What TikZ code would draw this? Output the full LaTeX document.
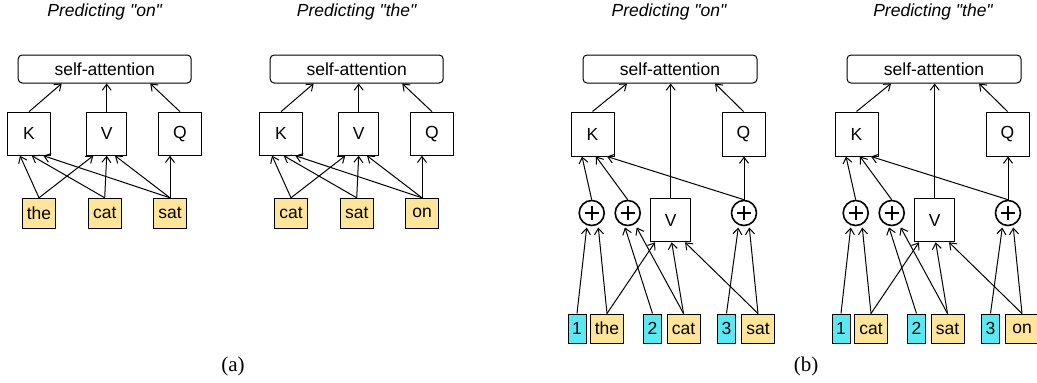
\documentclass[tikz,border=0pt]{standalone}
\usepackage{fontspec}
\setmainfont{Liberation Sans}
\newfontfamily\capfont{Liberation Serif}
\usetikzlibrary{calc,arrows.meta}
\definecolor{wordfill}{HTML}{FFE599}
\definecolor{numfill}{HTML}{5CE8F2}
\tikzset{
  diag/.style={font=\fontsize{17.5}{20}\selectfont},
  title/.style={font=\fontsize{17.5}{20}\selectfont\itshape},
  attn/.style={draw, line width=1pt, rounded corners=4pt, minimum width=173pt, minimum height=28pt, inner sep=0pt, diag},
  proj/.style={draw, line width=1pt, minimum width=43pt, minimum height=43pt, inner sep=0pt, diag},
  word/.style={draw, line width=1pt, fill=wordfill, minimum width=33pt, minimum height=29pt, inner sep=0pt, diag},
  num/.style={draw, line width=1pt, fill=numfill, minimum width=18pt, minimum height=29pt, inner sep=0pt, diag},
  plus/.style={circle, draw, line width=1.6pt, minimum size=25pt, inner sep=0pt,
    path picture={\draw[line width=2pt] ($(path picture bounding box.center)+(-7,0)$) -- +(14,0)
      ($(path picture bounding box.center)+(0,-7)$) -- +(0,14);}},
  link/.style={-{Straight Barb[length=6pt,width=9pt]}, line width=1pt}
}
% panel (a): offset, prefix, title, three words
\newcommand\panela[6]{
  \begin{scope}[xshift=#1pt]
    \node[title] (#2t) at (104.7,12) {#3};
    \node[attn] (#2sa) at (104.7,69) {self-attention};
    \node[proj] (#2K) at (29,133.7) {K};
    \node[proj, minimum width=40pt] (#2V) at (106.7,133.7) {V};
    \node[proj] (#2Q) at (180,133.7) {Q};
    \node[word, minimum height=30pt] (#2a) at (39,213.3) {#4};
    \node[word, minimum height=30pt] (#2b) at (104.7,213.3) {#5};
    \node[word, minimum height=30pt] (#2c) at (170,213.3) {#6};
    \draw[link] (#2a.north) -- ($(#2K.south)+(-9,0)$);
    \draw[link] (#2a.north) -- ($(#2V.south)+(-13.4,0)$);
    \draw[link] (#2b.north) -- ($(#2K.south)+(2.7,0)$);
    \draw[link] (#2b.north) -- (#2V.south);
    \draw[link] (#2c.north) -- ($(#2K.south)+(14.3,0)$);
    \draw[link] (#2c.north) -- ($(#2V.south)+(8.3,0)$);
    \draw[link] (#2c.north) -- (#2c.north |- #2Q.south);
    \draw[link] (#2K.north) -- ($(#2sa.south)+(-43,0)$);
    \draw[link] (#2V.north) -- (#2V.north |- #2sa.south);
    \draw[link] (#2Q.north) -- ($(#2sa.south)+(45.5,0)$);
  \end{scope}
}
% panel (b): offset, prefix, title, three words
\newcommand\panelb[6]{
  \begin{scope}[xshift=#1pt]
    \node[title] (#2t) at (669,12) {#3};
    \node[attn, minimum width=174pt] (#2sa) at (670,69) {self-attention};
    \node[proj, minimum height=44pt] (#2K) at (592.5,134) {K};
    \node[proj, minimum height=44pt] (#2Q) at (743.5,134) {Q};
    \node[plus] (#2p1) at (591.7,213) {};
    \node[plus] (#2p2) at (627.7,213) {};
    \node[plus] (#2p3) at (744,213) {};
    \node[proj, minimum width=40pt] (#2V) at (670.7,220.3) {V};
    \node[num] (#2n1) at (577,328.5) {1};
    \node[word] (#2a) at (607,328.5) {#4};
    \node[num] (#2n2) at (652.5,328.5) {2};
    \node[word] (#2b) at (683.5,328.5) {#5};
    \node[num] (#2n3) at (726.5,328.5) {3};
    \node[word] (#2c) at (758,328.5) {#6};
    \draw[link] (#2K.north) -- ($(#2sa.south)+(-43,0)$);
    \draw[link] (#2V.north) -- (#2V.north |- #2sa.south);
    \draw[link] (#2Q.north) -- ($(#2sa.south)+(45,0)$);
    \draw[link] (#2p1.north) -- ($(#2K.south)+(-10.5,0)$);
    \draw[link] (#2p2.north) -- ($(#2K.south)+(3.5,0)$);
    \draw[link] (#2p3.north) -- ($(#2K.south)+(14.5,0)$);
    \draw[link] (#2p3.north) -- (#2p3.north |- #2Q.south);
    \draw[link] (#2n1.north) -- ($(#2p1)+(-5,14.5)$);
    \draw[link] (#2a.north) -- ($(#2p1)+(6.6,14.5)$);
    \draw[link] (#2a.north) -- ($(#2V.south)+(-15.7,0)$);
    \draw[link] (#2n2.north) -- ($(#2p2)+(-2.7,14.5)$);
    \draw[link] (#2b.north) -- ($(#2p2)+(9,14.5)$);
    \draw[link] (#2b.north) -- ($(#2V.south)+(1,0)$);
    \draw[link] (#2n3.north) -- ($(#2p3)+(-5.7,14.5)$);
    \draw[link] (#2c.north) -- ($(#2p3)+(5.3,14.5)$);
    \draw[link] (#2c.north) -- ($(#2V.south)+(14.3,0)$);
  \end{scope}
}

\begin{document}
\begin{tikzpicture}[x=1pt, y=-1pt]
  \useasboundingbox (0,0) rectangle (1037,383);

  \panela{0}{la}{Predicting \textquotedbl on\textquotedbl}{the}{cat}{sat}
  \panela{252}{ra}{Predicting \textquotedbl the\textquotedbl}{cat}{sat}{on}
  \panelb{0}{lb}{Predicting \textquotedbl on\textquotedbl}{the}{cat}{sat}
  \panelb{264}{rb}{Predicting \textquotedbl the\textquotedbl}{cat}{sat}{on}

  \node[font=\capfont\fontsize{21}{24}\selectfont] (capa) at (233,366) {(a)};
  \node[font=\capfont\fontsize{21}{24}\selectfont] (capb) at (806,366) {(b)};
\end{tikzpicture}
\end{document}
